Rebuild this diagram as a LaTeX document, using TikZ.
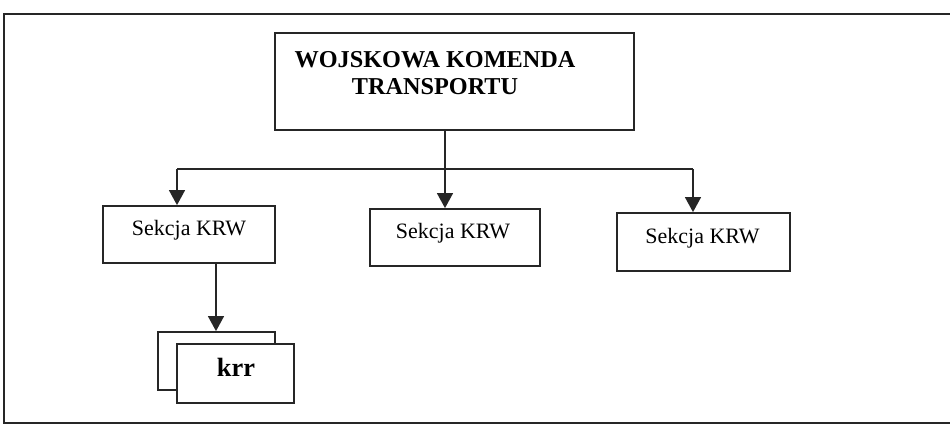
\documentclass[tikz,border=0pt]{standalone}
\usepackage{fontspec}
\setmainfont{Liberation Serif}
\usetikzlibrary{arrows.meta}
\begin{document}
\begin{tikzpicture}[x=0.02cm,y=-0.02cm,
  box/.style={draw=black!85,line width=1pt,inner sep=0pt},
  lbl/.style={font=\fontsize{12.5}{14}\selectfont,inner sep=0pt},
  conn/.style={draw=black!85,line width=1pt},
  arr/.style={conn,-{Triangle[length=8.5pt,width=9pt]}}]
\useasboundingbox (0,0) rectangle (950,427);
% outer frame (open on the right)
\draw[line width=1.2pt,black!85] (950,14) -- (4,14) -- (4,423) -- (950,423);
% top box
\node[box,minimum width=359*0.02cm,minimum height=97*0.02cm] (top) at (454.5,81.5) {};
\node[inner sep=0pt,align=center,font=\fontsize{13.8}{15}\selectfont\bfseries] (toplbl) at (435,73) {WOJSKOWA KOMENDA\\TRANSPORTU};
% second level
\node[box,minimum width=172*0.02cm,minimum height=57*0.02cm] (s1) at (189,234.5) {};
\node[lbl] (t1) at (189,230) {Sekcja KRW};
\node[box,minimum width=170*0.02cm,minimum height=57*0.02cm] (s2) at (455,237.5) {};
\node[lbl] (t2) at (453,233) {Sekcja KRW};
\node[box,minimum width=173*0.02cm,minimum height=58*0.02cm] (s3) at (703.5,242) {};
\node[lbl] (t3) at (702.5,238) {Sekcja KRW};
% krr stacked boxes
\node[box,minimum width=117*0.02cm,minimum height=58*0.02cm] (kb) at (216.5,361) {};
\node[box,fill=white,minimum width=117*0.02cm,minimum height=59*0.02cm] (kf) at (235.5,373.5) {};
\node[inner sep=0pt,font=\fontsize{15}{17}\selectfont\bfseries] (kt) at (236,367) {krr};
% connectors
\coordinate (j) at (445,169);
\coordinate (hl) at (177,169);
\coordinate (hr) at (693,169);
\draw[conn] (top.south -| j) -- (j);
\draw[conn] (hl) -- (hr);
\draw[arr] (hl) -- (hl |- s1.north);
\draw[arr] (j) -- (j |- s2.north);
\draw[arr] (hr) -- (hr |- s3.north);
\coordinate (kd) at (216,263);
\draw[arr] (s1.south -| kd) -- (kd |- kb.north);
\end{tikzpicture}
\end{document}
